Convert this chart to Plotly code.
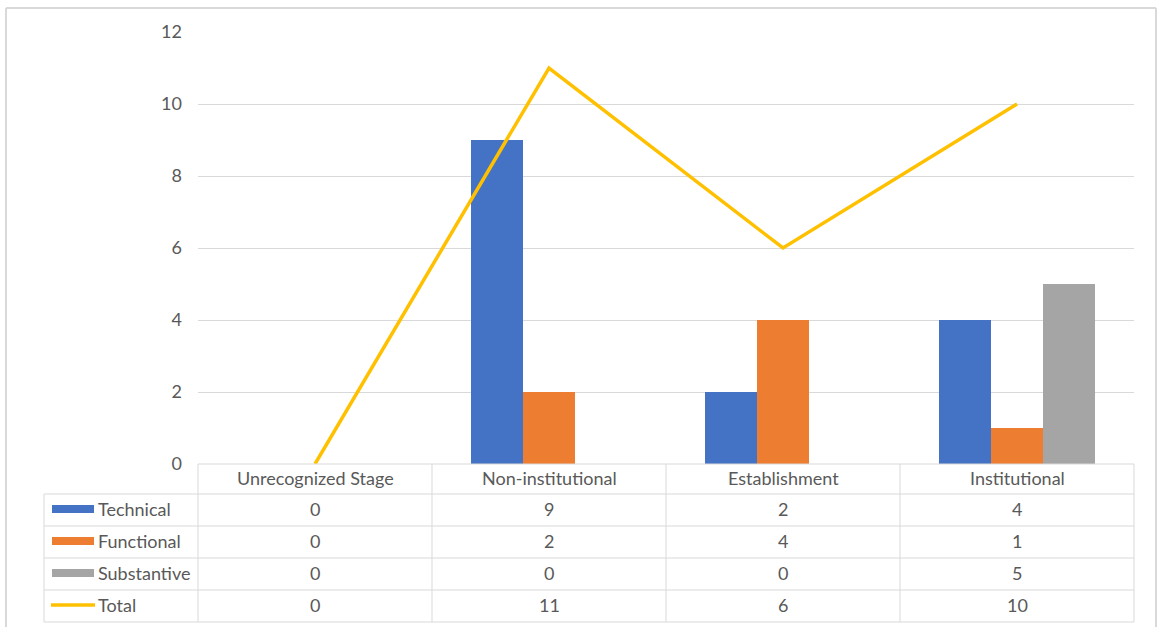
import plotly.graph_objects as go

categories = ["Unrecognized Stage", "Non-institutional", "Establishment", "Institutional"]
technical = [0, 9, 2, 4]
functional = [0, 2, 4, 1]
substantive = [0, 0, 0, 5]
total = [0, 11, 6, 10]
series_names = ["Technical", "Functional", "Substantive", "Total"]
y_ticks = [0, 2, 4, 6, 8, 10, 12]

colors = ["#4472C4", "#ED7D31", "#A5A5A5", "#FFC000"]
W, H = 1157, 627
L, R, T, B = 198, 1134, 32, 464  # plot area in pixels
FONT = "Lato, Liberation Sans, sans-serif"
FS = 18
TXT = "#595959"
GRID = "#D9D9D9"


def px(x):
    return (x - L) / (R - L)


def py(y):
    return (B - y) / (B - T)


fig = go.Figure()
for name, vals, col in zip(series_names[:3], [technical, functional, substantive], colors[:3]):
    fig.add_trace(go.Bar(x=categories, y=vals, name=name, marker=dict(color=col, line=dict(width=0))))
fig.add_trace(go.Scatter(x=categories, y=total, name="Total", mode="lines",
                         line=dict(color=colors[3], width=3.5)))

shapes = []
annotations = []
line_style = dict(color=GRID, width=1)

row_tops = [494, 526, 558, 590, 622]
left_edge = 44
n = len(categories)
col_edges = [k / n for k in range(n + 1)]

# horizontal lines
shapes.append(dict(type="line", xref="paper", yref="paper", x0=0, x1=1, y0=py(B), y1=py(B), line=line_style))
for yy in row_tops:
    shapes.append(dict(type="line", xref="paper", yref="paper", x0=px(left_edge), x1=1, y0=py(yy), y1=py(yy), line=line_style))
# vertical lines
for ce in col_edges:
    shapes.append(dict(type="line", xref="paper", yref="paper", x0=ce, x1=ce, y0=py(B), y1=py(row_tops[-1]), line=line_style))
shapes.append(dict(type="line", xref="paper", yref="paper", x0=px(left_edge), x1=px(left_edge),
                   y0=py(row_tops[0]), y1=py(row_tops[-1]), line=line_style))

font = dict(family=FONT, size=FS, color=TXT)
# header labels
for c in categories:
    annotations.append(dict(x=c, xref="x", y=py(478), yref="paper", text=c, showarrow=False,
                            font=font, xanchor="center", yanchor="middle"))

rows = [technical, functional, substantive, total]
for r, (name, vals) in enumerate(zip(series_names, rows)):
    yc = (row_tops[r] + row_tops[r + 1]) / 2
    yt = yc - 1.5
    for c, v in zip(categories, vals):
        annotations.append(dict(x=c, xref="x", y=py(yt), yref="paper", text=str(v), showarrow=False,
                                font=font, xanchor="center", yanchor="middle"))
    annotations.append(dict(x=px(96), xref="paper", y=py(yt), yref="paper", text=name, showarrow=False,
                            font=font, xanchor="left", yanchor="middle"))
    if r < 3:
        shapes.append(dict(type="rect", xref="paper", yref="paper", x0=px(52), x1=px(94),
                           y0=py(yc - 5), y1=py(yc + 3), fillcolor=colors[r], line=dict(width=0)))
    else:
        shapes.append(dict(type="line", xref="paper", yref="paper", x0=px(51), x1=px(95),
                           y0=py(yc - 1), y1=py(yc - 1), line=dict(color=colors[r], width=3.5)))

# outer chart border
bl = dict(color="#D9D9D9", width=2)
shapes.append(dict(type="line", xref="paper", yref="paper", x0=px(6), x1=px(1156), y0=py(8), y1=py(8), line=bl))
shapes.append(dict(type="line", xref="paper", yref="paper", x0=px(6), x1=px(6), y0=py(8), y1=py(640), line=bl))
shapes.append(dict(type="line", xref="paper", yref="paper", x0=px(1156), x1=px(1156), y0=py(8), y1=py(640), line=bl))

fig.update_layout(
    width=W, height=H,
    margin=dict(l=L, r=W - R, t=T, b=H - B, pad=0),
    paper_bgcolor="white", plot_bgcolor="white",
    barmode="group", bargap=1 / 3, bargroupgap=0,
    showlegend=False,
    shapes=shapes, annotations=annotations,
    xaxis=dict(range=[-0.5, 3.5], showticklabels=False, showgrid=False, zeroline=False, showline=False,
               fixedrange=True),
    yaxis=dict(range=[0, 12], tickvals=y_ticks, ticktext=[str(t) for t in y_ticks], showgrid=True,
               gridcolor=GRID, gridwidth=1, zeroline=False, showline=False, ticklabelstandoff=15,
               tickfont=font, fixedrange=True),
)

fig.write_html("out.html")
